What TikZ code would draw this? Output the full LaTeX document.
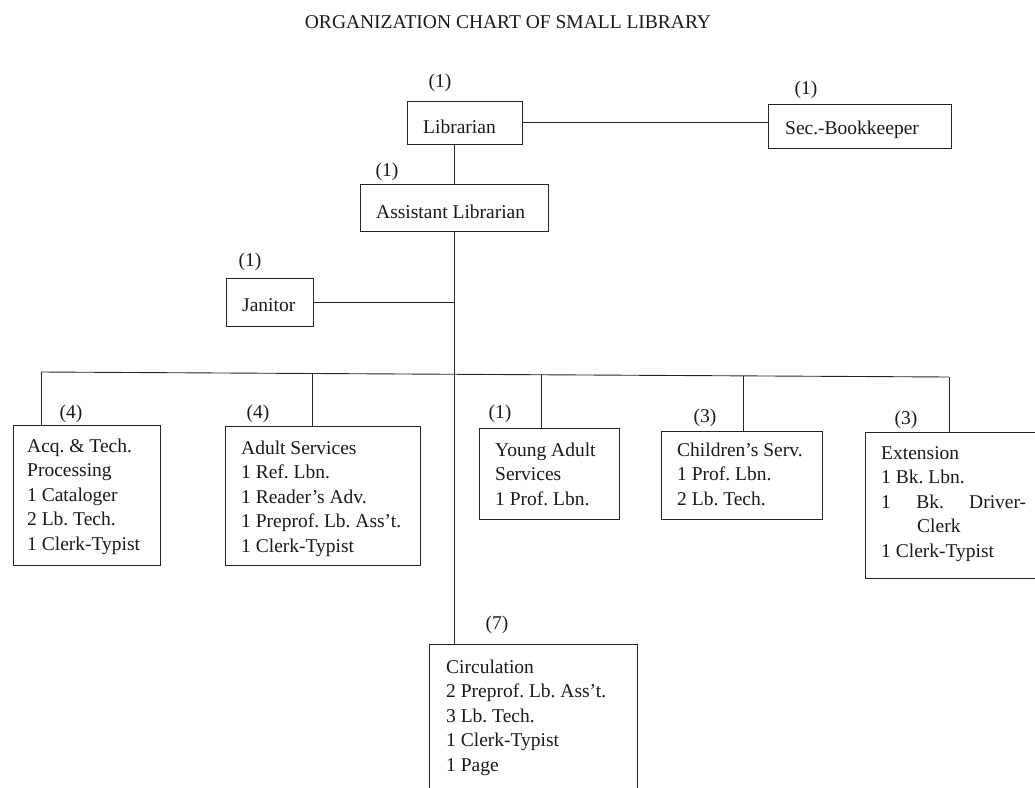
\documentclass[tikz,border=0pt]{standalone}
\usepackage{fontspec}
\setmainfont{Liberation Serif}
\begin{document}
\frenchspacing
\begin{tikzpicture}[x=1pt,y=-1pt,
  every node/.style={font=\fontsize{19.5}{24.5}\selectfont\frenchspacing, inner sep=0pt, text=black!90},
  box/.style={draw=black!85, line width=0.9pt, anchor=north west},
  openbox/.style={anchor=north west},
  ln/.style={draw=black!85, line width=0.9pt},
  cnt/.style={anchor=center},
  txt/.style={anchor=base west}]
\useasboundingbox (0,0) rectangle (1035,787);

% title
\node[anchor=base] (title) at (508,28) {ORGANIZATION CHART OF SMALL LIBRARY};

% top boxes
\node[box, minimum width=115pt, minimum height=43pt] (lib) at (407,101) {};
\node[txt] (libt) at (423,133) {Librarian};
\node[cnt] (libn) at (440,83) {(1)};

\node[box, minimum width=183pt, minimum height=44pt] (sec) at (768,104) {};
\node[txt] (sect) at (785,134) {Sec.-Bookkeeper};
\node[cnt] (secn) at (806,90) {(1)};

\node[box, minimum width=188pt, minimum height=47pt] (ast) at (360,184) {};
\node[txt] (astt) at (376,218) {Assistant Librarian};
\node[cnt] (astn) at (387,172) {(1)};

\node[box, minimum width=87pt, minimum height=48pt] (jan) at (226,278) {};
\node[txt] (jant) at (242,311) {Janitor};
\node[cnt] (jann) at (250,262) {(1)};

% bottom row boxes
\node[box, minimum width=147pt, minimum height=140pt] (acq) at (13,425) {};
\node[txt] (acqt) at (27,452) {\parbox[t]{140pt}{Acq. \& Tech.\\Processing\\1 Cataloger\\2 Lb. Tech.\\1 Clerk-Typist}};
\node[cnt] (acqn) at (71,414) {(4)};

\node[box, minimum width=195pt, minimum height=139pt] (adu) at (225,426) {};
\node[txt] (adut) at (241,454) {\parbox[t]{175pt}{Adult Services\\1 Ref. Lbn.\\1 Reader’s Adv.\\1 Preprof. Lb. Ass’t.\\1 Clerk-Typist}};
\node[cnt] (adun) at (258,414) {(4)};

\node[box, minimum width=140pt, minimum height=91pt] (you) at (479,428) {};
\node[txt] (yout) at (495,456) {\parbox[t]{120pt}{Young Adult\\Services\\1 Prof. Lbn.}};
\node[cnt] (youn) at (500,414) {(1)};

\node[box, minimum width=161pt, minimum height=88pt] (chi) at (661,431) {};
\node[txt] (chit) at (677,456) {\parbox[t]{140pt}{Children’s Serv.\\1 Prof. Lbn.\\2 Lb. Tech.}};
\node[cnt] (chin) at (705,418) {(3)};

\node[openbox, minimum width=172pt, minimum height=146pt] (ext) at (865,432) {};
\draw[ln] (ext.north east) -- (ext.north west) -- (ext.south west) -- (ext.south east);
\node[txt] (extt) at (881,459) {\parbox[t]{145pt}{Extension\\1 Bk. Lbn.\\1\hfill Bk.\hfill Driver-\\\hspace*{36pt}Clerk\\1 Clerk-Typist}};
\node[cnt] (extn) at (906,420) {(3)};

\node[openbox, minimum width=208pt, minimum height=145pt] (cir) at (429,644) {};
\draw[ln] (cir.south west) -- (cir.north west) -- (cir.north east) -- (cir.south east);
\node[txt] (cirt) at (446,673) {\parbox[t]{190pt}{Circulation\\2 Preprof. Lb. Ass’t.\\3 Lb. Tech.\\1 Clerk-Typist\\1 Page}};
\node[cnt] (cirn) at (497,625) {(7)};

% connectors
\draw[ln] (lib.east |- 0,122) -- (sec.west |- 0,122);
\draw[ln] (ast.north |- lib.south) -- (ast.north);
\draw[ln] (ast.south) -- (ast.south |- cir.north);
\draw[ln] (jan.east) -- (jan.east -| ast.south);

\coordinate (b1) at (41,372);
\coordinate (b2) at (312,373.5);
\coordinate (b3) at (541,374.8);
\coordinate (b4) at (743,375.9);
\coordinate (b5) at (949,377);
\draw[ln] (b1) -- (b5);
\draw[ln] (b1) -- (b1 |- acq.north);
\draw[ln] (b2) -- (b2 |- adu.north);
\draw[ln] (b3) -- (b3 |- you.north);
\draw[ln] (b4) -- (b4 |- chi.north);
\draw[ln] (b5) -- (b5 |- ext.north);
\end{tikzpicture}
\end{document}
